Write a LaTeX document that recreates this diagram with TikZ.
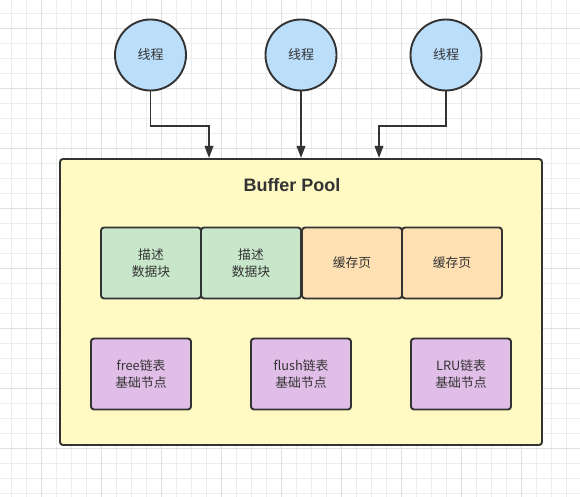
\documentclass[tikz,border=0pt]{standalone}
\usepackage{fontspec}
\usepackage{tikz}
\usetikzlibrary{arrows.meta}
\newfontfamily\cjk{Noto Sans CJK SC}
\newfontfamily\titlefont{Liberation Sans}
\definecolor{gridminor}{HTML}{EDEDED}
\definecolor{gridmajor}{HTML}{DFDFDF}
\definecolor{linegray}{HTML}{333333}
\definecolor{textgray}{HTML}{333333}
\definecolor{threadblue}{HTML}{BBDEFB}
\definecolor{poolyellow}{HTML}{FFF9C4}
\definecolor{descgreen}{HTML}{C8E6C9}
\definecolor{pageorange}{HTML}{FFE0B2}
\definecolor{listpurple}{HTML}{E1BEE7}

\begin{document}
\begin{tikzpicture}[x=1pt,y=-1pt,
    thread/.style={shape=circle,draw=linegray,fill=threadblue,line width=1.9pt,minimum size=71pt,inner sep=0pt,text=textgray,font=\cjk\fontsize{13}{16}\selectfont},
    box/.style={shape=rectangle,draw=linegray,line width=1.9pt,rounded corners=3pt,minimum width=100pt,minimum height=71pt,inner sep=0pt,align=center,text=textgray,font=\cjk\fontsize{12.8}{16.5}\selectfont},
    desc/.style={box,fill=descgreen},
    cache/.style={box,fill=pageorange},
    list/.style={box,fill=listpurple},
    arrow/.style={draw=linegray,line width=1.9pt,-{Triangle[length=12pt,width=8.5pt]}}]
    \useasboundingbox (0,0) rectangle (580,497);

    % background grid
    \foreach \x in {11.7,26.7,...,580} \draw[gridminor,line width=0.8pt] (\x,0) -- (\x,497);
    \foreach \y in {13.3,28.3,...,497} \draw[gridminor,line width=0.8pt] (0,\y) -- (580,\y);
    \foreach \x in {41.7,101.7,...,580} \draw[gridmajor,line width=0.8pt] (\x,0) -- (\x,497);
    \foreach \y in {28.3,88.3,...,497} \draw[gridmajor,line width=0.8pt] (0,\y) -- (580,\y);

    \node[thread] (T1) at (150.5,55) {线程};
    \node[thread] (T2) at (301,55) {线程};
    \node[thread] (T3) at (446,55) {线程};

    \node[shape=rectangle,draw=linegray,fill=poolyellow,line width=1.9pt,rounded corners=3pt,minimum width=482pt,minimum height=286pt] (P) at (301,302) {};
    \node[text=textgray,font=\titlefont\bfseries\fontsize{18}{21}\selectfont] (BP) at (292,185) {Buffer Pool};

    \node[desc] (D1) at (151,263) {描述\\数据块};
    \node[desc] (D2) at (251,263) {描述\\数据块};
    \node[cache] (C1) at (352,263) {缓存页};
    \node[cache] (C2) at (452,263) {缓存页};

    \node[list] (F) at (141,374) {free链表\\基础节点};
    \node[list] (FL) at (301,374) {flush链表\\基础节点};
    \node[list] (L) at (461,374) {LRU链表\\基础节点};

    \coordinate (E1) at (209,158);
    \coordinate (E2) at (301,158);
    \coordinate (E3) at (379,158);
    \draw[arrow] (T1.south) -- ++(0,35) -| (E1);
    \draw[arrow] (T2.south) -- (E2);
    \draw[arrow] (T3.south) -- ++(0,35) -| (E3);

\end{tikzpicture}
\end{document}
